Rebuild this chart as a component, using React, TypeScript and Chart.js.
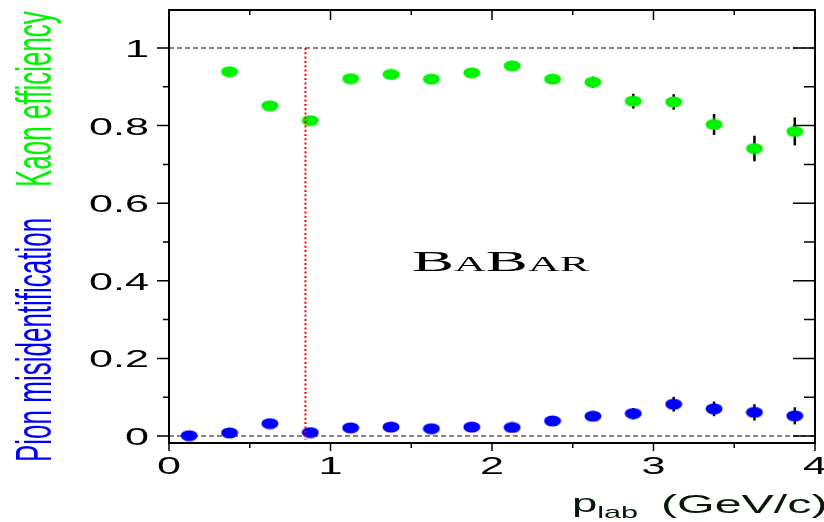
import React, { useEffect, useRef } from "react";
import { Chart, registerables } from "chart.js";

Chart.register(...registerables);

// ---- data ----
const pionMomentum = [0.125, 0.375, 0.625, 0.875, 1.125, 1.375, 1.625, 1.875, 2.125, 2.375, 2.625, 2.875, 3.125, 3.375, 3.625, 3.875];
const pionMisid = [0.001, 0.008, 0.032, 0.009, 0.021, 0.023, 0.019, 0.023, 0.022, 0.039, 0.051, 0.058, 0.082, 0.070, 0.061, 0.052];
const pionErr = [0.002, 0.003, 0.004, 0.003, 0.004, 0.004, 0.004, 0.005, 0.005, 0.006, 0.008, 0.014, 0.019, 0.019, 0.021, 0.022];

const kaonMomentum = [0.375, 0.625, 0.875, 1.125, 1.375, 1.625, 1.875, 2.125, 2.375, 2.625, 2.875, 3.125, 3.375, 3.625, 3.875];
const kaonEff = [0.939, 0.851, 0.813, 0.921, 0.932, 0.920, 0.936, 0.954, 0.920, 0.912, 0.863, 0.861, 0.803, 0.741, 0.785];
const kaonErr = [0.004, 0.005, 0.005, 0.005, 0.005, 0.005, 0.006, 0.007, 0.008, 0.014, 0.019, 0.020, 0.027, 0.033, 0.036];

const xTickValues = [0, 1, 2, 3, 4];
const xTickLabels = ["0", "1", "2", "3", "4"];
const xMinorValues = [0.5, 1.5, 2.5, 3.5];
const yTickValues = [0, 0.2, 0.4, 0.6, 0.8, 1];
const yTickLabels = ["0", "0.2", "0.4", "0.6", "0.8", "1"];
const yMinorValues = [0.1, 0.3, 0.5, 0.7, 0.9];
const referenceLevels = [0, 1];
const cutMomentum = 0.845;
const cutRange = [-0.01, 1];

const KAON_COLOR = "#00f400";
const PION_COLOR = "#0000ff";
const SX = 1.85; // horizontal stretch of all text

function makeEllipse(color: string) {
  const c = document.createElement("canvas");
  c.width = 18;
  c.height = 12;
  const g = c.getContext("2d")!;
  g.fillStyle = color;
  g.beginPath();
  g.ellipse(9, 6, 8.5, 5.5, 0, 0, Math.PI * 2);
  g.fill();
  return c;
}

function stretchedText(
  ctx: CanvasRenderingContext2D,
  text: string,
  x: number,
  y: number,
  font: string,
  color: string,
  align: CanvasTextAlign,
  sx = SX
) {
  ctx.save();
  ctx.translate(x, y);
  ctx.scale(sx, 1);
  ctx.font = font;
  ctx.fillStyle = color;
  ctx.textAlign = align;
  ctx.textBaseline = "alphabetic";
  ctx.fillText(text, 0, 0);
  const w = ctx.measureText(text).width * sx;
  ctx.restore();
  return w;
}

const decorPlugin = {
  id: "decor",
  beforeDatasetsDraw(chart: any) {
    const ctx: CanvasRenderingContext2D = chart.ctx;
    const xs = chart.scales.x;
    const ys = chart.scales.y;
    const area = chart.chartArea;
    ctx.save();
    ctx.strokeStyle = "#606060";
    ctx.lineWidth = 1.3;
    ctx.setLineDash([5, 3]);
    referenceLevels.forEach((v) => {
      const py = ys.getPixelForValue(v);
      ctx.beginPath();
      ctx.moveTo(area.left, py);
      ctx.lineTo(area.right, py);
      ctx.stroke();
    });
    ctx.setLineDash([]);
    ctx.strokeStyle = "#000";
    ctx.lineWidth = 2.5;
    const bars = (xsArr: number[], vals: number[], errs: number[]) => {
      xsArr.forEach((xv, i) => {
        const px = xs.getPixelForValue(xv);
        ctx.beginPath();
        ctx.moveTo(px, ys.getPixelForValue(vals[i] - errs[i]));
        ctx.lineTo(px, ys.getPixelForValue(vals[i] + errs[i]));
        ctx.stroke();
      });
    };
    bars(kaonMomentum, kaonEff, kaonErr);
    bars(pionMomentum, pionMisid, pionErr);
    ctx.restore();
  },
  afterDatasetsDraw(chart: any) {
    const ctx: CanvasRenderingContext2D = chart.ctx;
    const xs = chart.scales.x;
    const ys = chart.scales.y;
    const area = chart.chartArea;
    ctx.save();
    ctx.strokeStyle = "#ff0000";
    ctx.lineWidth = 2;
    ctx.setLineDash([2, 2.3]);
    const cx = xs.getPixelForValue(cutMomentum);
    ctx.beginPath();
    ctx.moveTo(cx, ys.getPixelForValue(cutRange[1]));
    ctx.lineTo(cx, ys.getPixelForValue(cutRange[0]));
    ctx.stroke();
    ctx.setLineDash([]);

    ctx.strokeStyle = "#000";
    ctx.lineWidth = 2;
    ctx.strokeRect(area.left, area.top, area.right - area.left, area.bottom - area.top);

    ctx.lineWidth = 1.5;
    ctx.beginPath();
    yTickValues.forEach((v) => {
      const py = ys.getPixelForValue(v);
      ctx.moveTo(area.left - 12, py);
      ctx.lineTo(area.left, py);
      ctx.moveTo(area.right, py);
      ctx.lineTo(area.right - 22, py);
    });
    yMinorValues.forEach((v) => {
      const py = ys.getPixelForValue(v);
      ctx.moveTo(area.left - 6, py);
      ctx.lineTo(area.left, py);
      ctx.moveTo(area.right, py);
      ctx.lineTo(area.right - 11, py);
    });
    xTickValues.forEach((v) => {
      const px = xs.getPixelForValue(v);
      ctx.moveTo(px, area.bottom);
      ctx.lineTo(px, area.bottom + 8);
      ctx.moveTo(px, area.top);
      ctx.lineTo(px, area.top + 10);
    });
    xMinorValues.forEach((v) => {
      const px = xs.getPixelForValue(v);
      ctx.moveTo(px, area.bottom);
      ctx.lineTo(px, area.bottom + 5);
      ctx.moveTo(px, area.top);
      ctx.lineTo(px, area.top + 5);
    });
    ctx.stroke();

    const tickFont = "24px 'Liberation Sans', Arial, sans-serif";
    yTickValues.forEach((v, i) => {
      const py = ys.getPixelForValue(v);
      stretchedText(ctx, yTickLabels[i], area.left - 20, py + 9, tickFont, "#000", "right", 1.8);
    });
    xTickValues.forEach((v, i) => {
      const px = xs.getPixelForValue(v);
      stretchedText(ctx, xTickLabels[i], px, area.bottom + 31, tickFont, "#000", "center", 1.8);
    });

    const titleColor = "#061806";
    let tx = 572;
    tx += stretchedText(ctx, "p", tx, 512, "26px 'Liberation Sans', Arial, sans-serif", titleColor, "left", 1.75);
    stretchedText(ctx, "lab", tx, 518, "17px 'Liberation Sans', Arial, sans-serif", titleColor, "left", 1.8);
    stretchedText(ctx, "(GeV/c)", 661, 513, "26px 'Liberation Sans', Arial, sans-serif", titleColor, "left", 1.86);

    const yFont = "26px 'Liberation Sans', Arial, sans-serif";
    const rot = (text: string, x: number, y: number, color: string) => {
      ctx.save();
      ctx.translate(x, y);
      ctx.scale(1.95, 1);
      ctx.rotate(-Math.PI / 2);
      ctx.font = yFont;
      ctx.fillStyle = color;
      ctx.textAlign = "left";
      ctx.textBaseline = "alphabetic";
      ctx.fillText(text, 0, 0);
      ctx.restore();
    };
    rot("Pion misidentification", 51, 462, PION_COLOR);
    rot("Kaon efficiency", 51, 187, KAON_COLOR);

    const big = "30px 'Liberation Serif', 'Times New Roman', serif";
    const small = "21px 'Liberation Serif', 'Times New Roman', serif";
    let bx = 412;
    const by = 271;
    const lsx = 2.1;
    bx += stretchedText(ctx, "B", bx, by, big, "#000", "left", lsx);
    bx += stretchedText(ctx, "A", bx, by, small, "#000", "left", lsx);
    bx += stretchedText(ctx, "B", bx, by, big, "#000", "left", lsx);
    stretchedText(ctx, "AR", bx, by, small, "#000", "left", lsx);

    ctx.restore();
  },
};

export default function App() {
  const ref = useRef<HTMLCanvasElement | null>(null);
  useEffect(() => {
    if (!ref.current) return;
    const kaonMarker = makeEllipse(KAON_COLOR);
    const pionMarker = makeEllipse(PION_COLOR);
    const chart = new Chart(ref.current, {
      type: "scatter",
      data: {
        datasets: [
          {
            label: "Kaon efficiency",
            data: kaonMomentum.map((x, i) => ({ x, y: kaonEff[i] })),
            pointStyle: kaonMarker as any,
            pointRadius: 8,
            showLine: false,
          },
          {
            label: "Pion misidentification",
            data: pionMomentum.map((x, i) => ({ x, y: pionMisid[i] })),
            pointStyle: pionMarker as any,
            pointRadius: 8,
            showLine: false,
          },
        ],
      },
      options: {
        responsive: false,
        animation: false,
        layout: { padding: { left: 169, right: 2, top: 10, bottom: 79 } },
        plugins: { legend: { display: false }, tooltip: { enabled: false } },
        scales: {
          x: { type: "linear", min: 0, max: 4, display: false },
          y: { type: "linear", min: -0.018, max: 1.098, display: false },
        },
      },
      plugins: [decorPlugin],
    });
    return () => chart.destroy();
  }, []);
  return (
    <div style={{ position: "absolute", left: 0, top: 0, width: 824, height: 522, background: "#fff" }}>
      <canvas ref={ref} width={824} height={522} />
    </div>
  );
}
